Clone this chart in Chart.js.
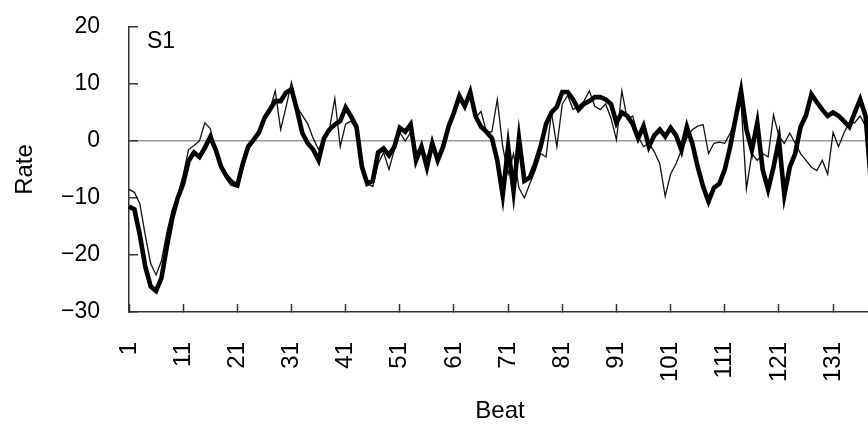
<!DOCTYPE html>
<html>
<head>
<meta charset="utf-8">
<script src="https://cdn.jsdelivr.net/npm/chart.js@4.4.1/dist/chart.umd.min.js"></script>
<style>
  html,body{margin:0;padding:0;background:#fff;overflow:hidden}
  #wrap{width:875px;height:432px}
</style>
</head>
<body>
<div id="wrap"><canvas id="rate-chart" width="875" height="432"></canvas></div>
<script>
/* S1 — beat-to-beat rate, two traces */

var BEATS=[];
for(var b=1;b<=138;b++) BEATS.push(String(b));

// thick trace
var THICK=[
  -11.5,-12,-16.5,-22,-25.5,-26.3,-24,-18.5,-13.5,-10,
  -7.5,-3.5,-2,-2.8,-1.2,0.7,-1.5,-4.5,-6.2,-7.5,
  -7.8,-4,-1,0.2,1.5,4,5.5,7,7,8.5,
  9.1,5.5,1.4,-0.4,-1.5,-3.4,0.5,2,2.9,3.5,
  5.9,4.3,2.5,-4.5,-7.5,-7,-2,-1.3,-2.5,-1,
  2.3,1.6,2.9,-3.4,-1,-4.6,-0.4,-3.4,-1,2.5,
  5,7.9,6.1,8.6,4.3,2.5,1.6,0.5,-3.4,-9.5,
  -1,-8.8,0.5,-7,-6.4,-4,-1,3,5,6,
  8.6,8.6,7.3,5.5,6.5,7,7.7,7.7,7.3,6.5,
  3.2,5,4.4,3,0.5,2.6,-1,1,2,0.8,
  2.3,1,-1.6,2.5,-0.4,-4.5,-8,-10.6,-8.2,-7.5,
  -5,-1,4,8.8,2,-1.6,3.2,-5,-8.5,-4.6,
  0.2,-9.5,-4.6,-2.2,2.5,4.5,8.2,6.8,5.5,4.4,
  5,4.4,3.5,2.5,5,7.3,4.4,-7.5
];

// thin trace
var THIN=[
  -8.5,-9,-11,-16.5,-21.5,-23.5,-21,-16,-12,-9.5,
  -6,-1.5,-0.8,0,3.2,2.2,-1.5,-4.5,-5.8,-6.8,
  -7.5,-5,-1.5,0,1.5,4.5,5.5,8.8,2,6,
  10.3,6,4.5,3,0.5,-1.5,0.5,2,7.5,-1,
  3,3.5,2,-4,-7.5,-8,-4,-2,-5,-1.5,
  1.5,0,1.5,-2,-1,-3,0.3,-3,-0.5,2,
  4.5,7,6,8,4,5.2,1.6,1.6,7.3,-1,
  -5.8,-2.2,-8.2,-10,-7.5,-5.2,-2.2,-2.8,5,-1,
  6.5,8,5.5,6.1,7,8.8,6.1,5.5,6.5,4,
  0.2,8.8,3.8,4.4,0.8,-1,-0.4,-1.9,-4,-9.7,
  -5.8,-4,-1.6,0.5,2,2.6,2.9,-2.2,-0.4,-0.2,
  -0.4,1.4,3.8,6.8,-8.4,-2.2,-3.4,-2.2,-2.8,4.6,
  0.8,-0.4,1.4,-0.4,-2.2,-3.4,-4.6,-5.2,-3.4,-5.8,
  1.5,-1,1.4,3.2,3.2,4.4,2.6,-3.4
];

var Y_MIN=-30, Y_MAX=20, Y_STEP=10;
var PANEL_LABEL='S1';
var FONT="'Liberation Sans', Arial, sans-serif";

var panelLabel={
  id:'panelLabel',
  afterDraw:function(chart){
    var c=chart.ctx, a=chart.chartArea;
    c.save();
    c.font='23px '+FONT;
    c.fillStyle='#000';
    c.textBaseline='middle';
    c.textAlign='left';
    c.fillText(PANEL_LABEL,a.left+18,a.top+15);
    c.restore();
  }
};

function noPad(s){ s.paddingLeft=0; s.paddingRight=0; s.paddingTop=0; s.paddingBottom=0; }

new Chart(document.getElementById('rate-chart'),{
  type:'line',
  data:{
    labels:BEATS,
    datasets:[
      {label:'thick',data:THICK,borderColor:'#000',borderWidth:4.6,pointRadius:0,tension:0,fill:false},
      {label:'thin',data:THIN,borderColor:'#111',borderWidth:1.3,pointRadius:0,tension:0,fill:false}
    ]
  },
  options:{
    responsive:false,animation:false,
    layout:{padding:{top:27,right:4,left:0,bottom:0}},
    plugins:{legend:{display:false},tooltip:{enabled:false}},
    scales:{
      x:{
        offset:false,
        border:{display:true,color:'#333',width:1.5},
        grid:{drawOnChartArea:false,drawTicks:true,tickLength:-8,tickWidth:1.5,
          tickColor:function(c){return c.index%10===0?'#333':'transparent';}},
        ticks:{autoSkip:false,minRotation:90,maxRotation:90,padding:38,color:'#000',
          font:{family:FONT,size:24},
          callback:function(v,i){return i%10===0?this.getLabelForValue(v):'';}},
        title:{display:true,text:'Beat',color:'#000',font:{family:FONT,size:24},padding:{top:0,bottom:6}},
        afterFit:function(s){s.height=120; noPad(s);}
      },
      y:{
        min:Y_MIN,max:Y_MAX,
        border:{display:true,color:'#333',width:1.5},
        grid:{drawTicks:true,tickLength:-9,tickWidth:1.5,tickColor:'#333',lineWidth:1.5,
          color:function(c){return c.tick&&c.tick.value===0?'#9a9a9a':'transparent';}},
        ticks:{stepSize:Y_STEP,padding:38,color:'#000',font:{family:FONT,size:23},
          callback:function(v){return v<0?'\u2212'+Math.abs(v):String(v);}},
        title:{display:true,text:'Rate',color:'#000',font:{family:FONT,size:24},padding:{top:11,bottom:0}},
        afterFit:function(s){s.width=129; noPad(s);}
      }
    }
  },
  plugins:[panelLabel]
});
</script>
</body>
</html>
